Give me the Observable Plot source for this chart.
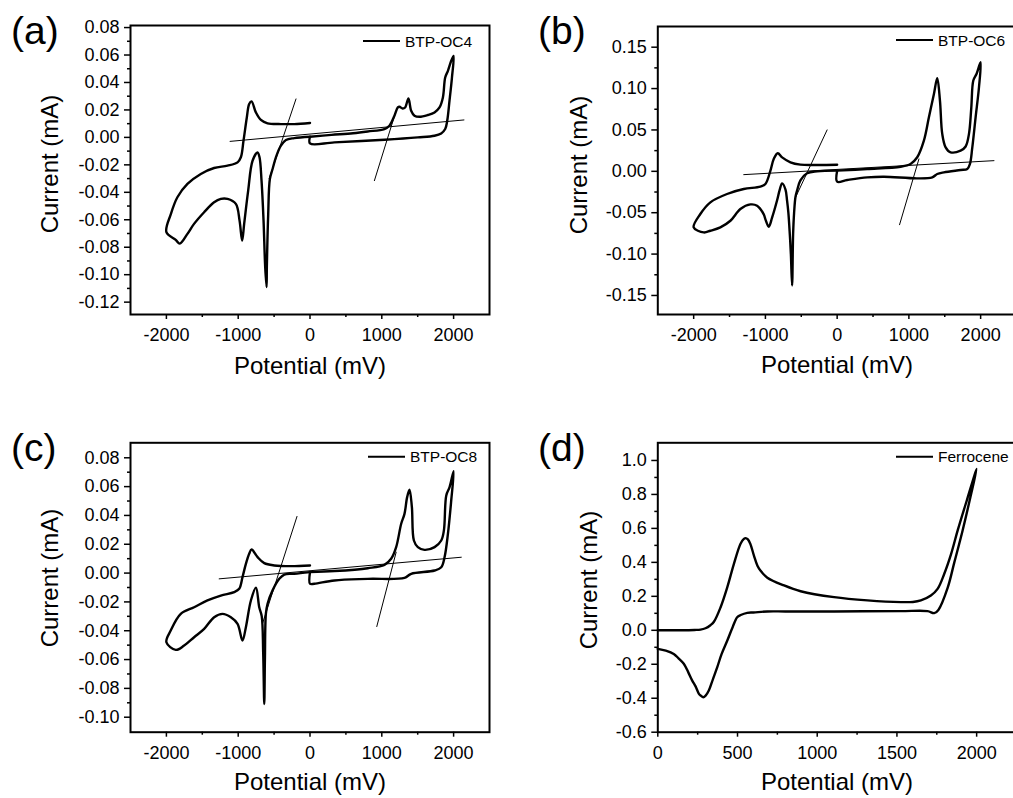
<!DOCTYPE html>
<html><head><meta charset="utf-8">
<script src="https://cdn.jsdelivr.net/npm/d3@7"></script>
<script src="https://cdn.jsdelivr.net/npm/@observablehq/plot@0.6"></script>
<style>
html,body{margin:0;padding:0;background:#fff;}
#wrap{position:relative;width:1013px;height:798px;overflow:hidden;background:#fff;font-family:"Liberation Sans",Arial,sans-serif;}
.panel{position:absolute;}
.panel text{font-size:18px;font-family:"Liberation Sans",Arial,sans-serif;fill:#000;}
#overlay{position:absolute;left:0;top:0;pointer-events:none;}
</style></head><body><div id="wrap"></div>
<script>
// ---------- Panel (a) BTP-OC4 ----------
const aNegMV = [0,-220,-335,-405,-475,-521,-559,-582,-601,-605,-624,-647,-675,-703,-730,-800,-861,-917,-945,-981,-1033,-1149,-1242,-1336,-1475,-1615,-1707,-1814,-1870,-2000,-1937,-1847,-1707,-1521,-1336,-1149,-1009,-963,-926,-880,-847,-814,-754,-684,-591,-405,-220,0];
const aNegMA = [0.0005,-0.0005,-0.0019,-0.006,-0.0145,-0.023,-0.0303,-0.0557,-0.0945,-0.109,-0.0945,-0.0606,-0.0315,-0.0145,-0.0109,-0.017,-0.0388,-0.063,-0.0752,-0.0606,-0.0484,-0.0448,-0.0448,-0.0473,-0.0545,-0.063,-0.0703,-0.0774,-0.0746,-0.069,-0.0557,-0.0436,-0.0339,-0.0266,-0.0223,-0.0206,-0.0182,-0.0145,-0.0024,0.0145,0.0243,0.0262,0.0182,0.0127,0.0102,0.0097,0.0097,0.0105];
const aPosMV = [0,300,600,805,1036,1106,1176,1223,1246,1290,1325,1371,1409,1455,1525,1641,1734,1804,1851,1883,1921,1967,2000,1977,1943,1911,1883,1827,1734,1502,1037,339,0,0];
const aPosMA = [0.0005,0.0018,0.003,0.0043,0.0061,0.0085,0.0158,0.0218,0.0223,0.021,0.0218,0.0284,0.0194,0.0158,0.015,0.0163,0.0182,0.0218,0.0291,0.0436,0.0485,0.0558,0.0594,0.0436,0.0267,0.0121,0.0061,0.0029,0.0012,0.0,-0.0017,-0.0036,-0.0044,0.0005];
const aTanMV = [[-1113,2144],[-195,-568],[897,1185]];
const aTanMA = [[-0.0029,0.0127],[0.028,-0.030],[-0.0315,0.017]];

// ---------- Panel (b) BTP-OC6 ----------
const bNegMV = [0,-279,-419,-512,-558,-581,-600,-614,-628,-645,-660,-680,-698,-720,-767,-800,-837,-907,-953,-1000,-1023,-1116,-1209,-1349,-1488,-1628,-1767,-1860,-2000,-1907,-1767,-1535,-1302,-1070,-1000,-930,-884,-828,-767,-651,-512,-279,0];
const bNegMA = [0.0008,0,-0.0024,-0.011,-0.023,-0.031,-0.05,-0.076,-0.138,-0.1,-0.076,-0.05,-0.0355,-0.022,-0.0145,-0.022,-0.035,-0.056,-0.067,-0.058,-0.052,-0.0415,-0.040,-0.0456,-0.0597,-0.0677,-0.0718,-0.0738,-0.0677,-0.0516,-0.0375,-0.0274,-0.0214,-0.0185,-0.0153,0.0008,0.0149,0.0218,0.0169,0.0109,0.0081,0.0077,0.008];
const bPosMV = [0,419,884,1023,1116,1209,1279,1349,1395,1433,1465,1512,1581,1721,1791,1837,1870,1898,1944,2000,1977,1930,1884,1851,1814,1721,1488,1395,1326,1116,651,419,140,0,0];
const bPosMA = [0.0008,0.0028,0.0056,0.0089,0.017,0.0371,0.0653,0.0935,0.1125,0.0855,0.0452,0.029,0.023,0.025,0.03,0.045,0.077,0.1097,0.118,0.1318,0.1016,0.0653,0.029,0.0089,0.0028,0.0016,-0.0012,-0.0032,-0.0073,-0.0085,-0.0065,-0.0073,-0.0105,-0.0125,0.0008];
const bTanMV = [[-1302,2186],[-140,-591],[870,1140]];
const bTanMA = [[-0.004,0.0129],[0.05,-0.0335],[-0.0645,0.0149]];

// ---------- Panel (c) BTP-OC8 ----------
const cNegMV = [0,-219,-358,-428,-521,-591,-614,-628,-637,-652,-672,-707,-753,-823,-893,-940,-1009,-1102,-1219,-1335,-1474,-1614,-1753,-1870,-2000,-1940,-1800,-1614,-1428,-1242,-1056,-986,-940,-893,-847,-814,-730,-637,-498,-265,0];
const cNegMA = [0.0007,-0.0005,-0.001,-0.004,-0.012,-0.0213,-0.028,-0.06,-0.0908,-0.055,-0.03,-0.0237,-0.0102,-0.019,-0.0375,-0.0468,-0.0352,-0.0306,-0.0283,-0.0306,-0.0387,-0.0445,-0.0503,-0.0533,-0.048,-0.0399,-0.0283,-0.0237,-0.019,-0.0156,-0.0132,-0.0109,-0.0028,0.0064,0.0134,0.0164,0.0111,0.0069,0.0053,0.0048,0.0053];
const cPosMV = [0,340,805,1037,1130,1200,1270,1316,1353,1386,1419,1447,1502,1595,1735,1828,1865,1898,1944,2000,1967,1921,1874,1828,1735,1409,1316,805,340,60,0,0];
const cPosMA = [0.0007,0.0014,0.0034,0.0057,0.0099,0.018,0.0342,0.0411,0.0527,0.0578,0.0458,0.0226,0.018,0.0161,0.018,0.0226,0.0296,0.0539,0.0596,0.0707,0.0504,0.0272,0.011,0.0041,0.0018,-0.0005,-0.0033,-0.004,-0.0051,-0.0074,-0.0074,0.0007];
const cTanMV = [[-1265,2107],[-181,-660],[930,1200]];
const cTanMA = [[-0.004,0.011],[0.0393,-0.0348],[-0.0371,0.0145]];

// ---------- Panel (d) Ferrocene ----------
const dMV = [0,100,163,230,268,299,330,352,394,436,477,519,540,551,565,580,603,625,645,687,792,896,1106,1315,1525,1600,1650,1713,1755,1797,1840,1881,1940,2000,1960,1912,1860,1818,1760,1734,1692,1525,1106,800,687,600,561,520,498,470,436,400,373,345,320,300,285,270,258,237,216,190,163,130,100,50,0];
const dMA = [0,0,0,0.002,0.004,0.012,0.03,0.05,0.136,0.254,0.39,0.51,0.538,0.543,0.535,0.51,0.44,0.38,0.35,0.31,0.264,0.23,0.195,0.176,0.166,0.167,0.176,0.205,0.244,0.333,0.45,0.588,0.77,0.95,0.78,0.588,0.40,0.25,0.12,0.101,0.113,0.113,0.111,0.111,0.111,0.105,0.103,0.09,0.077,0.02,-0.06,-0.14,-0.217,-0.29,-0.355,-0.385,-0.394,-0.385,-0.374,-0.33,-0.296,-0.245,-0.197,-0.165,-0.139,-0.12,-0.109];

// ---------- Ticks ----------
const xTicksCV = [-2000,-1000,0,1000,2000];
const xMinorCV = [-1500,-500,500,1500];
const yTicksA = [-0.12,-0.10,-0.08,-0.06,-0.04,-0.02,0,0.02,0.04,0.06,0.08];
const yMinorA = [-0.11,-0.09,-0.07,-0.05,-0.03,-0.01,0.01,0.03,0.05,0.07];
const yTicksB = [-0.15,-0.10,-0.05,0,0.05,0.10,0.15];
const yMinorB = [-0.125,-0.075,-0.025,0.025,0.075,0.125];
const yTicksC = [-0.10,-0.08,-0.06,-0.04,-0.02,0,0.02,0.04,0.06,0.08];
const yMinorC = [-0.09,-0.07,-0.05,-0.03,-0.01,0.01,0.03,0.05,0.07];
const xTicksD = [0,500,1000,1500,2000];
const xMinorD = [250,750,1250,1750];
const yTicksD = [-0.6,-0.4,-0.2,0,0.2,0.4,0.6,0.8,1.0];
const yMinorD = [-0.5,-0.3,-0.1,0.1,0.3,0.5,0.7,0.9];

const legendNames = ["BTP-OC4","BTP-OC6","BTP-OC8","Ferrocene"];
const panelLetters = ["(a)","(b)","(c)","(d)"];

function zip(xs, ys, k) { return xs.map((x, i) => ({x, y: ys[i], k})); }
function tangents(mvs, mas) {
  const out = [];
  mvs.forEach((pair, j) => pair.forEach((x, i) => out.push({x, y: mas[j][i], k: "t" + j})));
  return out;
}

const wrap = document.getElementById("wrap");
const FONT = "'Liberation Sans', Arial, Helvetica, sans-serif";

function panel(cfg) {
  const chart = Plot.plot({
    width: cfg.w, height: cfg.h,
    marginLeft: cfg.ml, marginRight: cfg.mr, marginTop: cfg.mt, marginBottom: cfg.mb,
    x: {domain: cfg.xd, label: null},
    y: {domain: cfg.yd, label: null},
    style: {fontFamily: FONT, fontSize: "18px", color: "black", background: "transparent", overflow: "visible"},
    marks: [
      Plot.axisY(cfg.yMinor, {tickSize: 3, strokeWidth: 1.5, fill: "none", label: null}),
      Plot.axisY(cfg.yTicks, {tickSize: 6, tickPadding: 5, strokeWidth: 1.5, tickFormat: cfg.yFmt, label: null, fontSize: 18, fontFamily: FONT}),
      Plot.axisX(cfg.xMinor, {tickSize: 3, strokeWidth: 1.5, fill: "none", label: null}),
      Plot.axisX(cfg.xTicks, {tickSize: 5, tickPadding: 9, strokeWidth: 1.5, tickFormat: d => String(d), label: null, fontSize: 18, fontFamily: FONT}),
      cfg.tan ? Plot.line(cfg.tan, {x: "x", y: "y", z: "k", stroke: "black", strokeWidth: 1}) : null,
      Plot.line(cfg.data, {x: "x", y: "y", z: "k", stroke: "black", strokeWidth: 2.4, curve: "catmull-rom"}),
      Plot.frame({stroke: "black", strokeWidth: 2})
    ]
  });
  chart.classList.add("panel");
  chart.style.left = cfg.left + "px";
  chart.style.top = cfg.top + "px";
  wrap.appendChild(chart);
}

const f2 = d => d.toFixed(2);
const f1 = d => d.toFixed(1);

panel({left: 0, top: 0, w: 506, h: 399, ml: 130, mr: 17, mt: 25, mb: 85,
  xd: [-2500, 2500], yd: [-0.129, 0.0815], xTicks: xTicksCV, xMinor: xMinorCV,
  yTicks: yTicksA, yMinor: yMinorA, yFmt: f2,
  data: zip(aNegMV, aNegMA, "neg").concat(zip(aPosMV, aPosMA, "pos")),
  tan: tangents(aTanMV, aTanMA)});

panel({left: 506, top: 0, w: 512, h: 399, ml: 151.3, mr: 2, mt: 26, mb: 85,
  xd: [-2500, 2500], yd: [-0.173, 0.175], xTicks: xTicksCV, xMinor: xMinorCV,
  yTicks: yTicksB, yMinor: yMinorB, yFmt: f2,
  data: zip(bNegMV, bNegMA, "neg").concat(zip(bPosMV, bPosMA, "pos")),
  tan: tangents(bTanMV, bTanMA)});

panel({left: 0, top: 399, w: 506, h: 399, ml: 130, mr: 17, mt: 43.3, mb: 66.3,
  xd: [-2500, 2500], yd: [-0.1104, 0.0904], xTicks: xTicksCV, xMinor: xMinorCV,
  yTicks: yTicksC, yMinor: yMinorC, yFmt: f2,
  data: zip(cNegMV, cNegMA, "neg").concat(zip(cPosMV, cPosMA, "pos")),
  tan: tangents(cTanMV, cTanMA)});

panel({left: 506, top: 399, w: 512, h: 399, ml: 151.3, mr: 2, mt: 43.3, mb: 66.3,
  xd: [0, 2250], yd: [-0.6, 1.104], xTicks: xTicksD, xMinor: xMinorD,
  yTicks: yTicksD, yMinor: yMinorD, yFmt: f1,
  data: zip(dMV, dMA, "d")});

// ---------- Overlay: panel letters, axis titles, legends ----------
const ov = d3.select(wrap).append("svg").attr("id", "overlay")
  .attr("width", 1013).attr("height", 798)
  .style("font-family", FONT);

const letterPos = [[11, 44], [538, 44], [11, 461], [538, 461]];
panelLetters.forEach((t, i) => ov.append("text").attr("x", letterPos[i][0]).attr("y", letterPos[i][1])
  .attr("font-size", 39).attr("fill", "black").text(t));

const yTitlePos = [[58, 164], [587, 165], [58, 578], [597, 580]];
yTitlePos.forEach(p => ov.append("text")
  .attr("transform", `translate(${p[0]},${p[1]}) rotate(-90)`)
  .attr("text-anchor", "middle").attr("font-size", 24).attr("fill", "black").text("Current (mA)"));

const xTitlePos = [[310, 374], [837, 373], [310, 790], [837, 790]];
xTitlePos.forEach(p => ov.append("text").attr("x", p[0]).attr("y", p[1])
  .attr("text-anchor", "middle").attr("font-size", 24).attr("fill", "black").text("Potential (mV)"));

const legPos = [[363, 41], [896, 40], [368, 456.7], [896, 456.7]];
legendNames.forEach((t, i) => {
  const [x, y] = legPos[i];
  ov.append("line").attr("x1", x).attr("x2", x + 37).attr("y1", y).attr("y2", y)
    .attr("stroke", "black").attr("stroke-width", 2);
  ov.append("text").attr("x", x + 42).attr("y", y + 5.5).attr("font-size", 15.5)
    .attr("fill", "black").text(t);
});
</script></body></html>
